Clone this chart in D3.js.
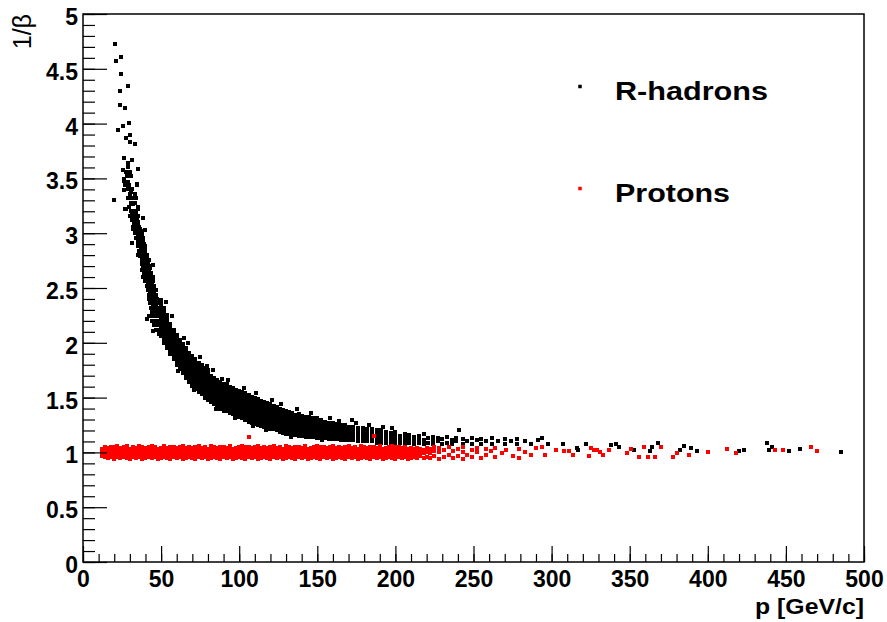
<!DOCTYPE html>
<html>
<head>
<meta charset="utf-8">
<script src="https://cdn.jsdelivr.net/npm/d3@7"></script>
<style>
  body { margin: 0; background: #fff; }
  svg { display: block; }
</style>
</head>
<body>
<svg id="chart" width="887" height="622"></svg>
<script>
// ---- DATA ----
// axis ticks
const xTicks = [0, 50, 100, 150, 200, 250, 300, 350, 400, 450, 500];
const yTicks = [0, 0.5, 1, 1.5, 2, 2.5, 3, 3.5, 4, 4.5, 5];

const legendLabels = ["R-hadrons", "Protons"];

// R-hadrons, steep part and stray points: [p, 1/beta] pairs
const rhadronPoints = [
  [19.8,3.30],[20.7,4.73],[21.1,4.57],[22.4,3.94],[23.5,4.30],[23.5,4.17],[24.5,4.61],[24.5,4.45],
  [25.4,3.98],[25.8,3.58],[26.2,3.69],[26.2,3.39],[26.4,3.49],[27.1,4.14],[27.3,3.87],[27.3,3.22],
  [28,3.55],[28,3.47],[29,4.34],[29,3.63],[29,3.47],[29.2,4.01],[29.9,3.90],[30.1,3.83],[30.5,3.38],
  [31.2,3.67],[31.2,3.32],[31.2,3.15],[31.6,2.91],[32.2,3.27],[32.2,3.20],[32.2,3.06],[33.3,3.81],
  [34.4,3.44],[34.8,3.45],[35.4,3.59],[35.4,3.22],[36.5,2.79],[37.5,2.97],[37.5,2.66],[38.6,3.14],
  [39.7,3.03],[39.7,2.88],[26.9,3.22],[27,3.44],[29.5,3.44],[26.4,3.48],[28,3.52],[30.8,3.52],
  [27.5,3.56],[29.8,3.56],[28.5,3.60],[29,3.64],
  [28.5,3.40],[31.5,3.40],[30,3.36],[33,3.36],[29,3.32],[34,3.32],[30.5,3.28],[33,3.28],
  [29.5,3.24],[35,3.24],[31,3.20],[33.5,3.20],[30,3.16],[32.5,3.16],[35.5,3.16],[31.5,3.12],
  [34,3.12],[32.5,3.08],[35,3.08],[31.8,3.04],[34,3.04],[36.5,3.04],[33.5,3.00],[36,3.00],
  [38,3.00],[34,2.96],[36.5,2.96],[38.5,2.96],[35,2.92],[37.5,2.92],[35.5,2.88],[38,2.88],
  [40,2.88],[36,2.84],[38.5,2.84],[35,2.80],[37,2.80],[39.5,2.80],[41,2.80],[37.5,2.76],
  [40,2.76],[42,2.76],[38,2.72],[40.5,2.72],[45,2.71],[38.5,2.68],[41,2.68],[43,2.68],
  [39,2.64],[41.5,2.64],[43.5,2.64],[38.6,2.60],[40.5,2.60],[42.9,2.60],[44.5,2.60],[40,2.56],
  [42,2.56],[44.5,2.56],[40.8,2.52],[43,2.52],[45.5,2.52],[41.5,2.48],[44,2.48],[46.5,2.48],
  [42,2.44],[44.5,2.44],[47,2.44],[42.5,2.40],[45,2.40],[47.5,2.40],[43,2.36],[45.5,2.36],
  [48,2.36],[43.5,2.32],[46,2.32],[48.5,2.32],[44,2.28],[46.5,2.28],[49,2.28],[42,2.24],
  [44.5,2.24],[47,2.24],[49.5,2.24],[44,2.20],[46.5,2.20],[49,2.20],[45.5,2.16],[48,2.16],
  [47,2.12],[49.5,2.12],[48.5,2.08],[40.8,2.22],[45,2.11],[64.9,2.04],[79.2,1.79],[89.2,1.67],
  [172,1.30],
  [31.5,3.18],[34,3.18],[32,3.14],[34.5,3.14],[33,3.10],[35.5,3.10],[33.5,3.06],[36,3.06],
  [34.5,3.02],[37,3.02],[35,2.98],[37.5,2.98],[36,2.94],[38.5,2.94],[36.5,2.90],[39,2.90],
  [37,2.86],[39.5,2.86],[37.5,2.82],[40,2.82],[38.5,2.78],[41,2.78],[39,2.74],[41.5,2.74],
  [39.5,2.70],[42,2.70],[40,2.66],[42.5,2.66],[40.5,2.62],[43,2.62],[41,2.58],[43.5,2.58],
  [41.5,2.54],[44,2.54],[42.5,2.50],[45,2.50],[43,2.46],[45.5,2.46],[43.5,2.42],[46,2.42],
  [44,2.38],[46.5,2.38],[44.5,2.34],[47,2.34],[45,2.30],[47.5,2.30],[45.5,2.26],[48,2.26],
  [53,2.37],[57,2.24],[61,1.74],[67,2.0],[71,1.57],[75,1.87],[83,1.75],[85,1.4],[93,1.66],
  [97,1.31],[103,1.59],[109,1.24],[111,1.54],[117,1.2],[121,1.48],[127,1.44],[133,1.14],
  [137,1.4],[146,1.36],[153,1.11],[158,1.31],[164,1.29],[175,1.27],[183,1.25],[192,1.23],[198,1.22]
];

// R-hadrons, dense band: [p, 1/beta values seen at that p...]
const rhadronColumns = [
  [50,2.06,2.09,2.12,2.15,2.18,2.21,2.24,2.27,2.3,2.33,2.36,2.39],
  [52,2.0,2.03,2.06,2.09,2.12,2.15,2.18,2.21,2.24,2.27,2.3,2.32],
  [54,1.95,1.98,2.01,2.04,2.07,2.1,2.13,2.16,2.19,2.22,2.25],
  [56,1.9,1.93,1.96,1.99,2.02,2.05,2.08,2.11,2.14,2.17],
  [58,1.85,1.88,1.91,1.94,1.97,2.0,2.03,2.06,2.09,2.12],
  [60,1.8,1.83,1.86,1.89,1.92,1.95,1.98,2.01,2.04,2.07],
  [62,1.76,1.79,1.82,1.85,1.88,1.91,1.94,1.97,2.0,2.03],
  [64,1.72,1.75,1.78,1.81,1.84,1.87,1.9,1.93,1.96,1.99],
  [66,1.68,1.71,1.74,1.77,1.8,1.83,1.86,1.89,1.92,1.95],
  [68,1.64,1.67,1.7,1.73,1.76,1.79,1.82,1.85,1.88,1.91],
  [70,1.61,1.64,1.67,1.7,1.73,1.76,1.79,1.82,1.85,1.88],
  [72,1.58,1.61,1.64,1.67,1.7,1.73,1.76,1.79,1.82,1.85],
  [74,1.55,1.58,1.61,1.64,1.67,1.7,1.73,1.76,1.79,1.82],
  [76,1.53,1.56,1.59,1.62,1.65,1.68,1.71,1.74,1.77,1.8],
  [78,1.5,1.53,1.56,1.59,1.62,1.65,1.68,1.71,1.74,1.77],
  [80,1.48,1.51,1.54,1.57,1.6,1.63,1.66,1.69,1.72,1.75],
  [82,1.46,1.49,1.52,1.55,1.58,1.61,1.64,1.67,1.7],
  [84,1.44,1.47,1.5,1.53,1.56,1.59,1.62,1.65,1.68],
  [86,1.42,1.45,1.48,1.51,1.54,1.57,1.6,1.63,1.66],
  [88,1.4,1.43,1.46,1.49,1.52,1.55,1.58,1.61,1.64],
  [90,1.38,1.41,1.44,1.47,1.5,1.53,1.56,1.59,1.62],
  [92,1.38,1.41,1.44,1.47,1.5,1.53,1.56,1.59,1.62],
  [94,1.36,1.39,1.42,1.45,1.48,1.51,1.54,1.57,1.6],
  [96,1.35,1.38,1.41,1.44,1.47,1.5,1.53,1.56,1.59],
  [98,1.33,1.36,1.39,1.42,1.45,1.48,1.51,1.54,1.57],
  [100,1.32,1.35,1.38,1.41,1.44,1.47,1.5,1.53,1.56],
  [102,1.31,1.34,1.37,1.4,1.43,1.46,1.49,1.52,1.55],
  [104,1.3,1.33,1.36,1.39,1.42,1.45,1.48,1.51,1.54],
  [106,1.28,1.31,1.34,1.37,1.4,1.43,1.46,1.49,1.52],
  [108,1.27,1.3,1.33,1.36,1.39,1.42,1.45,1.48,1.51],
  [110,1.26,1.29,1.32,1.35,1.38,1.41,1.44,1.47,1.5],
  [112,1.25,1.28,1.31,1.34,1.37,1.4,1.43,1.46,1.49],
  [114,1.24,1.27,1.3,1.33,1.36,1.39,1.42,1.45,1.47],
  [116,1.23,1.26,1.29,1.32,1.35,1.38,1.41,1.44,1.46],
  [118,1.22,1.25,1.28,1.31,1.34,1.37,1.4,1.43,1.45],
  [120,1.21,1.24,1.27,1.3,1.33,1.36,1.39,1.42,1.44],
  [122,1.21,1.24,1.27,1.3,1.33,1.36,1.39,1.42],
  [124,1.2,1.23,1.26,1.29,1.32,1.35,1.38,1.41],
  [126,1.19,1.22,1.25,1.28,1.31,1.34,1.37,1.4],
  [128,1.18,1.21,1.24,1.27,1.3,1.33,1.36,1.39],
  [130,1.17,1.2,1.23,1.26,1.29,1.32,1.35,1.38],
  [132,1.17,1.2,1.23,1.26,1.29,1.32,1.35,1.37],
  [134,1.16,1.19,1.22,1.25,1.28,1.31,1.34,1.36],
  [136,1.16,1.19,1.22,1.25,1.28,1.31,1.34],
  [138,1.15,1.18,1.21,1.24,1.27,1.3,1.33,1.35],
  [140,1.15,1.18,1.21,1.24,1.27,1.3,1.33],
  [142.5,1.14,1.17,1.2,1.23,1.26,1.29,1.32],
  [145,1.14,1.17,1.2,1.23,1.26,1.29,1.32],
  [147.5,1.14,1.17,1.2,1.23,1.26,1.29,1.31],
  [150,1.13,1.16,1.19,1.22,1.25,1.28,1.31],
  [152.5,1.13,1.16,1.19,1.22,1.25,1.28,1.3],
  [155,1.13,1.16,1.19,1.22,1.25,1.28],
  [157.5,1.12,1.15,1.18,1.21,1.24,1.27],
  [160,1.12,1.15,1.18,1.21,1.24,1.27],
  [162.5,1.12,1.15,1.18,1.21,1.24,1.26],
  [165,1.11,1.14,1.17,1.2,1.23,1.25],
  [167.5,1.11,1.14,1.17,1.2,1.23,1.25],
  [170,1.11,1.14,1.17,1.2,1.23],
  [173,1.11,1.14,1.17,1.2,1.23],
  [176,1.1,1.13,1.16,1.19,1.22],
  [179,1.1,1.13,1.16,1.19,1.22],
  [182,1.1,1.13,1.16,1.19,1.21],
  [185,1.1,1.13,1.16,1.19,1.21],
  [188,1.09,1.12,1.15,1.18,1.2],
  [191,1.09,1.12,1.15,1.18,1.2],
  [194,1.09,1.12,1.15,1.17,1.19],
  [197,1.09,1.12,1.15,1.18],
  [200,1.09,1.12,1.15,1.17,1.19],
  [203,1.09,1.12,1.15],
  [206,1.08,1.11,1.14,1.17],
  [209,1.09,1.12,1.16],
  [212,1.08,1.11,1.14],
  [215,1.09,1.12,1.15],
  [218,1.08,1.11,1.17],
  [221,1.09,1.13],
  [224,1.08,1.11,1.14],
  [227,1.1,1.13],
  [230,1.08,1.12],
  [233,1.09,1.14],
  [236,1.08,1.11],
  [239,1.1,1.13],
  [241,1.2],
  [243,1.08,1.12],
  [246,1.1],
  [249,1.08,1.13],
  [252,1.11],
  [255,1.08,1.12],
  [258,1.1],
  [262,1.08,1.13],
  [266,1.1],
  [270,1.08,1.12],
  [274,1.1],
  [278,1.08,1.12],
  [283,1.1],
  [287,1.08],
  [291,1.11],
  [294,1.13],[298,1.08],[307,1.08],[316,1.04],[317,1.02],[322,1.08],[338,1.07],[341,1.08],
  [343,1.05],[353,1.02],[363,1.01],[364,1.05],[368,1.09],[382,1.02],[385,1.06],[389,1.04],
  [393,1.01],[420,1.01],[423,1.02],[438,1.09],[439,1.02],[441,1.05],[452,1.01],[459,1.03],
  [485,1.0]
];

// Protons: [p, 1/beta values seen at that p...]
const protonColumns = [
  [12,0.97,1.0,1.03],[14,0.96,0.99,1.02,1.05],[16,0.95,0.98,1.01,1.04],[18,0.96,0.99,1.02,1.05],
  [20,0.94,0.97,1.0,1.03,1.05],[22,0.96,0.99,1.02,1.06],[24,0.95,0.98,1.01,1.04],
  [26,0.96,0.99,1.02,1.05],[28,0.95,0.98,1.01,1.04,1.06],[30,0.94,0.97,1.0,1.03],[32,0.96,0.99,1.02,1.05],
  [34,0.95,0.98,1.01,1.04],[36,0.96,0.99,1.02,1.06],[38,0.94,0.97,1.0,1.03,1.05],
  [40,0.95,0.98,1.01,1.04],[42,0.96,0.99,1.02,1.05],[44,0.95,0.98,1.01,1.04,1.06],[46,0.96,0.99,1.02,1.05],
  [48,0.94,0.97,1.0,1.03],[50,0.95,0.98,1.01,1.04],[52,0.96,0.99,1.02,1.06],
  [54,0.95,0.98,1.01,1.04],[56,0.94,0.97,1.0,1.03,1.05],[58,0.96,0.99,1.02,1.05],[60,0.95,0.98,1.01,1.04],
  [62,0.96,0.99,1.02,1.05],[64,0.94,0.97,1.0,1.03,1.06],[66,0.95,0.98,1.01,1.04],
  [68,0.96,0.99,1.02,1.05],[70,0.95,0.98,1.01,1.04],[72,0.94,0.97,1.0,1.03,1.05],[74,0.96,0.99,1.02,1.06],
  [76,0.95,0.98,1.01,1.04],[78,0.96,0.99,1.02,1.05],[80,0.94,0.97,1.0,1.03],
  [82,0.95,0.98,1.01,1.04,1.06],[84,0.96,0.99,1.02,1.05],[86,0.95,0.98,1.01,1.04],[88,0.94,0.97,1.0,1.03,1.05],
  [90,0.96,0.99,1.02,1.05],[92,0.95,0.98,1.01,1.04],[94,0.96,0.99,1.02,1.06],
  [96,0.94,0.97,1.0,1.03],[98,0.95,0.98,1.01,1.04],[100,0.96,0.99,1.02,1.05],[102,0.95,0.98,1.01,1.04,1.06],
  [104,0.94,0.97,1.0,1.03,1.05],[106,0.96,0.99,1.02,1.05],[106.5,1.14],[108,0.95,0.98,1.01,1.04],
  [110,0.96,0.99,1.02,1.05],[112,0.94,0.97,1.0,1.03,1.06],[114,0.95,0.98,1.01,1.04],[116,0.96,0.99,1.02,1.05],
  [118,0.95,0.98,1.01,1.04],[120,0.94,0.97,1.0,1.03,1.05],[122,0.96,0.99,1.02,1.06],
  [124,0.95,0.98,1.01,1.04],[126,0.96,0.99,1.02,1.05],[128,0.94,0.97,1.0,1.03],[130,0.95,0.98,1.01,1.04,1.06],
  [132,0.96,0.99,1.02,1.05],[134,0.95,0.98,1.01,1.04],[136,0.94,0.97,1.0,1.03,1.05],
  [138,0.96,0.99,1.02,1.05],[140,0.95,0.98,1.01,1.04],[142,0.96,0.99,1.02,1.06],[144,0.94,0.97,1.0,1.03],
  [146,0.95,0.98,1.01,1.04],[148,0.96,0.99,1.02,1.05],[150,0.95,0.98,1.01,1.04,1.06],
  [152,0.94,0.97,1.0,1.03,1.05],[154,0.96,0.99,1.02,1.05],[156,0.95,0.98,1.01,1.04],[158,0.96,0.99,1.02,1.05],
  [160,0.94,0.97,1.0,1.03,1.06],[162,0.95,0.98,1.01,1.04],[164,0.96,0.99,1.02,1.05],
  [166,0.95,0.98,1.01,1.04],[168,0.94,0.97,1.0,1.03,1.05],[170,0.96,0.99,1.02,1.06],[172,0.95,0.98,1.01,1.04],
  [174,0.96,0.99,1.02,1.05],[176,0.94,0.97,1.0,1.03],[178,0.95,0.98,1.01,1.04,1.06],
  [180,0.96,0.99,1.02,1.05],[182,0.95,0.98,1.01,1.04],[184,0.94,0.97,1.0,1.03,1.05],[186,0.96,0.99,1.02,1.05,1.15],
  [188,0.95,0.98,1.01,1.04],[190,0.96,0.99,1.02,1.06],[192,0.94,0.97,1.0,1.03],
  [194,0.95,0.98,1.01,1.04],[196,0.96,0.99,1.02,1.05],[198,0.95,0.98,1.01,1.04,1.06],[200,0.94,0.97,1.0,1.03,1.05],
  [202,0.96,0.99,1.02,1.05],[204,0.95,0.98,1.01,1.04],[206,0.96,0.99,1.02,1.05],
  [208,0.94,0.97,1.0,1.03],[210,0.95,0.98,1.01,1.04],[212,0.96,0.99,1.03],[214,0.95,0.98,1.01,1.04],
  [216,0.97,1.0,1.03],[218,0.95,0.99,1.02],[220,0.96,1.0,1.04],
  [222,0.95,0.99,1.03],[225,0.97,1.01,1.05],[228,0.94,1.0,1.04],[231,0.96,1.02],[234,0.98,1.05],
  [237,0.95,1.01],[240,0.97,1.03],[243,0.94,1.0,1.05],[246,0.98],[249,0.96,1.02],[252,1.0,1.04],
  [255,0.95],[258,0.98,1.03],[261,1.01],[264,0.96,1.04],[268,0.99],[271,1.02],[275,0.97],
  [279,0.95,1.03],[283,1.0],[287,0.98],[290,1.04],
  [294,1.05],[296,0.98],[303,1.02],[308,1.01],[311,1.01],[314,0.98],[324,0.97],[325,1.04],
  [327,1.02],[329,1.02],[331,1.0],[333,0.98],[337,1.02],[348,0.99],[351,1.03],[356,0.96],
  [359,1.05],[362,0.96],[366,0.96],[370,1.05],[378,0.96],[380,0.99],[388,0.98],[400,1.0],
  [412,1.03],[418,0.99],[443,1.02],[448,1.02],[466,1.05],[470,1.01]
];

// ---- SETUP ----
const width = 887, height = 622;
const margin = { top: 14, right: 23, bottom: 60, left: 83 };
const font = "'Liberation Sans', Arial, Helvetica, sans-serif";

const xScale = d3.scaleLinear()
  .domain([0, 500])
  .range([margin.left, width - margin.right]);

const yScale = d3.scaleLinear()
  .domain([0, 5])
  .range([height - margin.bottom, margin.top]);

const svg = d3.select("#chart")
  .attr("font-family", font);

svg.append("rect")
  .attr("width", width)
  .attr("height", height)
  .attr("fill", "#fff");

// flatten data
const rhadrons = rhadronPoints.map(([p, b]) => ({ p, b }))
  .concat(rhadronColumns.flatMap(([p, ...bs]) => bs.map(b => ({ p, b }))));
const protons = protonColumns.flatMap(([p, ...bs]) => bs.map(b => ({ p, b })));

const ms = 4; // marker size (px), snapped to the pixel grid like ROOT's markers

function drawMarkers(data, color) {
  svg.append("g")
    .attr("shape-rendering", "crispEdges")
    .selectAll("rect")
    .data(data)
    .join("rect")
    .attr("x", d => Math.round(xScale(d.p) - ms / 2))
    .attr("y", d => Math.round(yScale(d.b) - ms / 2))
    .attr("width", ms)
    .attr("height", ms)
    .attr("fill", color);
}

// R-hadrons (black) then protons (red) on top
drawMarkers(rhadrons, "#000");
drawMarkers(protons, "#ff0000");

// + AXES (ticks pointing inward, ROOT style)
const yZero = yScale(0);

svg.append("g")
  .attr("transform", `translate(0, ${yZero})`)
  .call(d3.axisBottom(xScale).ticks(50).tickSize(-8).tickFormat(""))
  .call(g => g.select(".domain").remove())
  .call(g => g.selectAll("line").attr("stroke", "#000").attr("stroke-width", 1.2));

svg.append("g")
  .attr("transform", `translate(0, ${yZero})`)
  .call(d3.axisBottom(xScale).tickValues(xTicks).tickSize(-16).tickPadding(9).tickFormat(d => String(d)))
  .call(g => g.select(".domain").remove())
  .call(g => g.selectAll("line").attr("stroke", "#000").attr("stroke-width", 1.2))
  .attr("font-family", font)
  .attr("font-size", 23)
  .attr("font-weight", "bold")
  .call(g => g.selectAll("text").attr("fill", "#000"));

svg.append("g")
  .attr("transform", `translate(${margin.left}, 0)`)
  .call(d3.axisLeft(yScale).ticks(50).tickSize(-12).tickFormat(""))
  .call(g => g.select(".domain").remove())
  .call(g => g.selectAll("line").attr("stroke", "#000").attr("stroke-width", 1.2));

svg.append("g")
  .attr("transform", `translate(${margin.left}, 0)`)
  .call(d3.axisLeft(yScale).tickValues(yTicks).tickSize(-24).tickPadding(5).tickFormat(d => String(d)))
  .call(g => g.select(".domain").remove())
  .call(g => g.selectAll("line").attr("stroke", "#000").attr("stroke-width", 1.2))
  .attr("font-family", font)
  .attr("font-size", 23)
  .attr("font-weight", "bold")
  .call(g => g.selectAll("text").attr("fill", "#000").attr("dy", "0.46em"));

// frame
svg.append("rect")
  .attr("x", margin.left)
  .attr("y", margin.top)
  .attr("width", width - margin.left - margin.right)
  .attr("height", height - margin.top - margin.bottom)
  .attr("fill", "none")
  .attr("stroke", "#000")
  .attr("stroke-width", 1.5);

// AXIS LABELS
svg.append("text")
  .attr("x", width - margin.right)
  .attr("y", 614)
  .attr("text-anchor", "end")
  .attr("font-size", 22)
  .attr("font-weight", "bold")
  .attr("textLength", 109)
  .attr("lengthAdjust", "spacingAndGlyphs")
  .text("p [GeV/c]");

svg.append("text")
  .attr("transform", `translate(31, ${margin.top}) rotate(-90)`)
  .attr("text-anchor", "end")
  .attr("font-size", 25)
  .text("1/β");

// LEGEND
const legendY = [86.5, 188.5];
const legendColors = ["#000", "#ff0000"];
const legendWidths = [153, 115];
const legend = svg.append("g");
legendLabels.forEach((label, i) => {
  legend.append("rect")
    .attr("x", 580 - 1.75)
    .attr("y", legendY[i] - 1.75)
    .attr("width", 3.5)
    .attr("height", 3.5)
    .attr("fill", legendColors[i]);
  legend.append("text")
    .attr("x", 615)
    .attr("y", legendY[i] + 13.5)
    .attr("font-size", 25.5)
    .attr("font-weight", "bold")
    .attr("textLength", legendWidths[i])
    .attr("lengthAdjust", "spacingAndGlyphs")
    .text(label);
});
</script>
</body>
</html>
